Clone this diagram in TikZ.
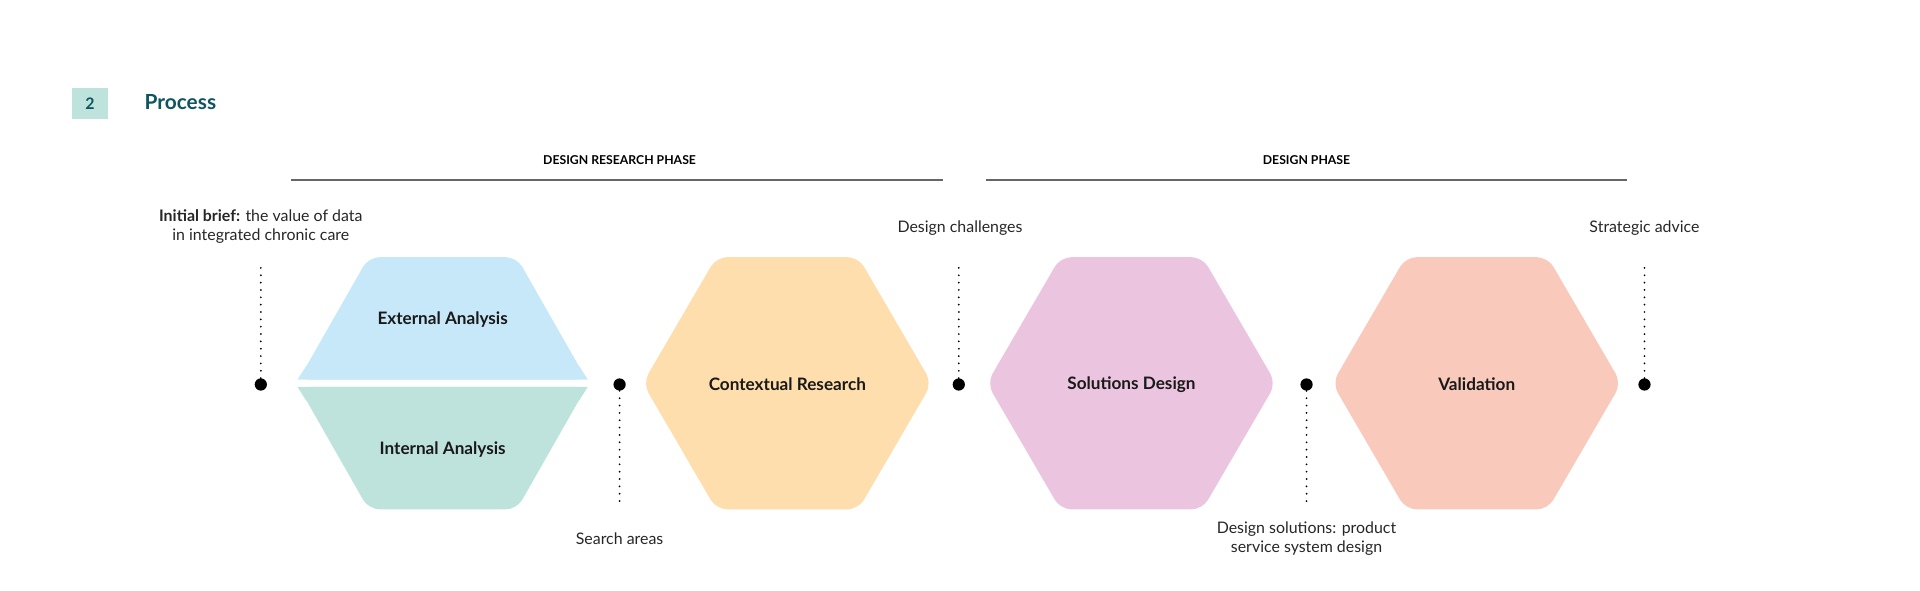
\documentclass[tikz,border=0pt]{standalone}
\usepackage{fontspec}
\setmainfont{Lato}
\begin{document}
\begin{tikzpicture}[x=1pt,y=-1pt,
  lbl/.style={font=\fontsize{13}{16}\selectfont, align=center, text=black!85},
  hexlbl/.style={font=\bfseries\fontsize{14}{17}\selectfont, text=black!90},
  phase/.style={font=\bfseries\fontsize{10}{12}\selectfont},
  dotn/.style={circle, fill=black, inner sep=0pt, minimum size=10pt},
  dotline/.style={line width=1.6pt, dash pattern=on 0pt off 6pt, line cap=round},
  hex/.style={rounded corners=9pt}]
\useasboundingbox (0,0) rectangle (1568,482);
\definecolor{cblue}{HTML}{C7E8F8}
\definecolor{cteal}{HTML}{BEE3DC}
\definecolor{corange}{HTML}{FDDEAC}
\definecolor{cpink}{HTML}{EBC5DF}
\definecolor{csalmon}{HTML}{F9C9BB}
\definecolor{dteal}{HTML}{0E5560}
% header
\node[fill=cteal, minimum width=29pt, minimum height=25pt, inner sep=0pt, text=dteal, font=\bfseries\fontsize{13}{15}\selectfont] (num) at (73.5,84.5) {2};
\node[anchor=west, text=dteal, font=\bfseries\fontsize{17}{20}\selectfont, inner sep=0pt] (title) at (118,83) {Process};
% phases
\coordinate (p1a) at (238,147); \coordinate (p1b) at (770,147);
\coordinate (p2a) at (805,147); \coordinate (p2b) at (1329,147);
\draw[black!60, line width=1pt] (p1a) -- (p1b);
\draw[black!60, line width=1pt] (p2a) -- (p2b);
\node[phase] (ph1) at (506,131) {DESIGN RESEARCH PHASE};
\node[phase] (ph2) at (1067,131) {DESIGN PHASE};
% hexagon 1 split
\fill[cblue, hex] (244,310) -- (301,210) -- (422,210) -- (479,310) -- cycle;
\fill[cteal, hex] (244,316) -- (301,416) -- (422,416) -- (479,316) -- cycle;
\fill[cblue] (243,310) -- (250,299) -- (473,299) -- (480,310) -- cycle;
\fill[cteal] (243,316) -- (250,327) -- (473,327) -- (480,316) -- cycle;
\node[hexlbl] (ext) at (361.5,261) {External Analysis};
\node[hexlbl] (int) at (361.5,367) {Internal Analysis};
% other hexagons
\foreach \c/\col in {643/corange, 924/cpink, 1206/csalmon}{
  \fill[\col, hex] (\c-118,313) -- (\c-58,210) -- (\c+58,210) -- (\c+118,313) -- (\c+58,416) -- (\c-58,416) -- cycle;
}
\node[hexlbl] (ctx) at (643,314) {Contextual Research};
\node[hexlbl] (sol) at (924,314) {Solutions Design};
\node[hexlbl] (val) at (1206,314) {Validation};
% dots
\node[dotn] (d1) at (213,314) {};
\node[dotn] (d2) at (506,314) {};
\node[dotn] (d3) at (783,314) {};
\node[dotn] (d4) at (1067,314) {};
\node[dotn] (d5) at (1343,314) {};
\coordinate (t1) at (213,214); \coordinate (t2) at (506,413);
\coordinate (t3) at (783,214); \coordinate (t4) at (1067,413);
\coordinate (t5) at (1343,214);
\draw[dotline] (d1) -- (t1);
\draw[dotline] (d2) -- (t2);
\draw[dotline] (d3) -- (t3);
\draw[dotline] (d4) -- (t4);
\draw[dotline] (d5) -- (t5);
% labels
\node[lbl] (l1) at (213,185) {\textbf{Initial brief:} the value of data\\in integrated chronic care};
\node[lbl] (l2) at (506,440) {Search areas};
\node[lbl] (l3) at (784,186) {Design challenges};
\node[lbl] (l4) at (1067,440) {Design solutions: product\\service system design};
\node[lbl] (l5) at (1343,186) {Strategic advice};
\end{tikzpicture}
\end{document}
